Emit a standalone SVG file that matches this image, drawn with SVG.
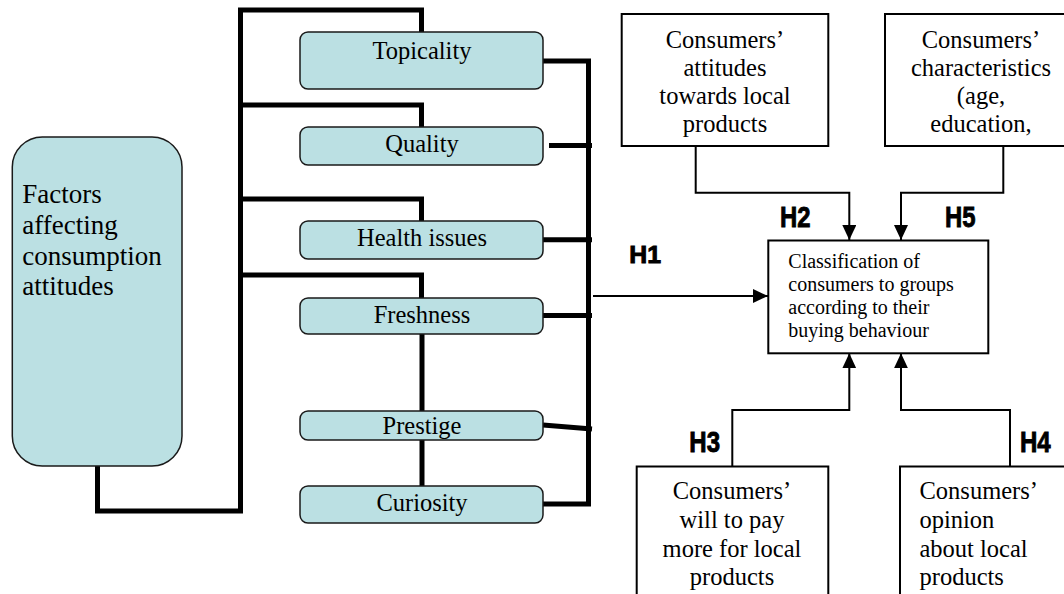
<svg xmlns="http://www.w3.org/2000/svg" width="1064" height="594" viewBox="0 0 1064 594">
<style>
  .factor rect { fill: #bbe0e3; stroke: #1a1a1a; stroke-width: 1.5; }
  .serif { font-family: "Liberation Serif", "Times New Roman", serif; fill: #000; }
  .lbl { font-size: 24.5px; }
  .mid { text-anchor: middle; }
  .box rect { fill: #fff; stroke: #000; stroke-width: 2; }
  .thick { fill: none; stroke: #000; stroke-width: 5; }
  .thin { fill: none; stroke: #000; stroke-width: 2; }
  .h { font-family: "Liberation Sans", Arial, sans-serif; font-weight: bold; fill: #000; stroke: #000; stroke-width: 0.9; }
</style>
<defs>
  <marker id="arr" markerUnits="userSpaceOnUse" markerWidth="15" markerHeight="14" refX="15" refY="7" orient="auto">
    <path d="M0,0 L15,7 L0,14 z" fill="#000"/>
  </marker>
</defs>

<g id="connectors">
  <path class="thick" d="M97.5,466 V511 H240.5 V10 H421.5 V32"/>
  <path class="thick" d="M240.5,105 H421.5 V127"/>
  <path class="thick" d="M240.5,199 H421.5 V221"/>
  <path class="thick" d="M240.5,275 H421.5 V298"/>
  <path class="thick" d="M422,334 V411"/>
  <path class="thick" d="M422,440 V486"/>
  <path class="thick" d="M543,61 H588.5 V504 H543"/>
  <path class="thick" d="M549,145.5 H592"/>
  <path class="thick" d="M543,239.7 H592"/>
  <path class="thick" d="M543,315.5 H592"/>
  <path class="thick" d="M543,425 L592,429"/>
  <path class="thin" d="M593,296 H768" marker-end="url(#arr)"/>
  <path class="thin" d="M695.7,146 V192.7 H849.3 V240" marker-end="url(#arr)"/>
  <path class="thin" d="M1003.3,146 V192.7 H901 V240" marker-end="url(#arr)"/>
  <path class="thin" d="M732.3,466 V410 H849.3 V353.3" marker-end="url(#arr)"/>
  <path class="thin" d="M1010,466 V410 H901 V353.3" marker-end="url(#arr)"/>
</g>

<g id="factors" class="factor">
  <rect x="12.3" y="137" width="169.7" height="329" rx="30" ry="30"/>
  <text class="serif" font-size="27" x="22.3" y="203.3">Factors</text>
  <text class="serif" font-size="27" x="22.3" y="234">affecting</text>
  <text class="serif" font-size="27" x="22.3" y="264.5">consumption</text>
  <text class="serif" font-size="27" x="22.3" y="295">attitudes</text>
</g>

<g id="topicality" class="factor">
  <rect x="300" y="32" width="243" height="57" rx="8"/>
  <text class="serif lbl mid" x="422" y="59.3">Topicality</text>
</g>
<g id="quality" class="factor">
  <rect x="300" y="127" width="243" height="38" rx="8"/>
  <text class="serif lbl mid" x="422" y="151.7">Quality</text>
</g>
<g id="health" class="factor">
  <rect x="300" y="221" width="243" height="38" rx="8"/>
  <text class="serif lbl mid" x="422" y="245.7">Health issues</text>
</g>
<g id="freshness" class="factor">
  <rect x="300" y="298" width="243" height="36" rx="8"/>
  <text class="serif lbl mid" x="422" y="322.7">Freshness</text>
</g>
<g id="prestige" class="factor">
  <rect x="300" y="411" width="243" height="29" rx="8"/>
  <text class="serif lbl mid" x="422" y="434.3">Prestige</text>
</g>
<g id="curiosity" class="factor">
  <rect x="300" y="486" width="243" height="37" rx="8"/>
  <text class="serif lbl mid" x="422" y="510.7">Curiosity</text>
</g>

<g id="attitudes" class="box">
  <rect x="621.7" y="14" width="206.6" height="132"/>
  <text class="serif lbl mid" x="725" y="48">Consumers’</text>
  <text class="serif lbl mid" x="725" y="76">attitudes</text>
  <text class="serif lbl mid" x="725" y="104">towards local</text>
  <text class="serif lbl mid" x="725" y="132">products</text>
</g>
<g id="characteristics" class="box">
  <rect x="885" y="14" width="192" height="132"/>
  <text class="serif lbl mid" x="981" y="48">Consumers’</text>
  <text class="serif lbl mid" x="981" y="76">characteristics</text>
  <text class="serif lbl mid" x="981" y="104">(age,</text>
  <text class="serif lbl mid" x="981" y="132">education,</text>
</g>
<g id="classification" class="box">
  <rect x="768.3" y="240.5" width="220" height="112.8"/>
  <text class="serif" font-size="20" x="788.3" y="268.3">Classification of</text>
  <text class="serif" font-size="20" x="788.3" y="291.3">consumers to groups</text>
  <text class="serif" font-size="20" x="788.3" y="314">according to their</text>
  <text class="serif" font-size="20" x="788.3" y="337">buying behaviour</text>
</g>
<g id="willtopay" class="box">
  <rect x="636.7" y="466.5" width="191.6" height="150"/>
  <text class="serif lbl mid" x="732" y="499">Consumers’</text>
  <text class="serif lbl mid" x="732" y="527.7">will to pay</text>
  <text class="serif lbl mid" x="732" y="556.5">more for local</text>
  <text class="serif lbl mid" x="732" y="585">products</text>
</g>
<g id="opinion" class="box">
  <rect x="900" y="466.5" width="190" height="150"/>
  <text class="serif lbl" x="919.5" y="499">Consumers’</text>
  <text class="serif lbl" x="919.5" y="527.7">opinion</text>
  <text class="serif lbl" x="919.5" y="556.5">about local</text>
  <text class="serif lbl" x="919.5" y="585">products</text>
</g>

<g id="hypotheses">
  <text class="h" font-size="23.5" x="629.3" y="263.3" textLength="31.7" lengthAdjust="spacingAndGlyphs">H1</text>
  <text class="h" font-size="30" x="780" y="226.7" textLength="30.5" lengthAdjust="spacingAndGlyphs">H2</text>
  <text class="h" font-size="30" x="945" y="226.7" textLength="30.5" lengthAdjust="spacingAndGlyphs">H5</text>
  <text class="h" font-size="30" x="689.3" y="452.3" textLength="30.7" lengthAdjust="spacingAndGlyphs">H3</text>
  <text class="h" font-size="30" x="1020" y="452.3" textLength="30.7" lengthAdjust="spacingAndGlyphs">H4</text>
</g>
</svg>
